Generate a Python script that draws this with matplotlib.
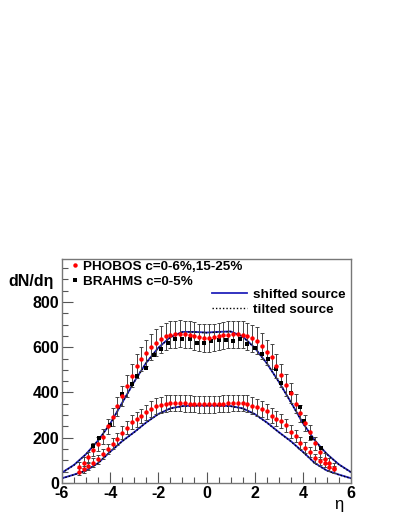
import matplotlib
matplotlib.use("Agg")
import matplotlib.pyplot as plt
from matplotlib.lines import Line2D

plt.rcParams['font.family'] = ['Liberation Sans', 'DejaVu Sans']
plt.rcParams['axes.unicode_minus'] = False

# PHOBOS 0-6% (central) and 15-25% (peripheral), eta bins of 0.2
phobos_eta = [-5.3, -5.1, -4.9, -4.7, -4.5, -4.3, -4.1, -3.9, -3.7, -3.5, -3.3, -3.1, -2.9, -2.7,
              -2.5, -2.3, -2.1, -1.9, -1.7, -1.5, -1.3, -1.1, -0.9, -0.7, -0.5, -0.3, -0.1,
              0.1, 0.3, 0.5, 0.7, 0.9, 1.1, 1.3, 1.5, 1.7, 1.9, 2.1, 2.3, 2.5, 2.7,
              2.9, 3.1, 3.3, 3.5, 3.7, 3.9, 4.1, 4.3, 4.5, 4.7, 4.9, 5.1, 5.3]
phobos_central = [69, 90, 113, 147, 172, 205, 250, 292, 340, 385, 430, 474, 515, 548,
                  575, 600, 620, 636, 648, 655, 658, 660, 657, 655, 650, 645, 641,
                  641, 645, 648, 652, 656, 658, 657, 655, 648, 639, 629, 607, 577, 558,
                  517, 477, 433, 399, 350, 308, 264, 224, 175, 135, 108, 88, 66]
phobos_central_err = [22, 24, 26, 28, 30, 32, 35, 38, 42, 45, 48, 51, 53, 55,
                      57, 58, 59, 60, 60, 60, 60, 60, 60, 60, 60, 60, 60,
                      60, 60, 60, 60, 60, 60, 60, 60, 60, 60, 59, 58, 57, 55,
                      53, 51, 48, 45, 42, 38, 35, 32, 30, 28, 26, 24, 22]
phobos_periph = [50, 60, 76, 90, 105, 128, 150, 174, 196, 222, 244, 270, 281, 296,
                 312, 327, 340, 346, 350, 353, 354, 353, 352, 350, 349, 348, 347,
                 347, 348, 349, 350, 352, 353, 354, 353, 350, 342, 334, 327, 317, 297,
                 284, 274, 256, 227, 209, 177, 156, 136, 109, 97, 87, 72, 60]
phobos_periph_err = [16, 17, 18, 19, 20, 22, 23, 25, 26, 28, 29, 31, 32, 33,
                     34, 35, 36, 36, 37, 37, 37, 37, 37, 37, 37, 37, 37,
                     37, 37, 37, 37, 37, 37, 37, 37, 37, 36, 36, 35, 34, 33,
                     32, 31, 29, 28, 26, 25, 23, 22, 20, 19, 18, 17, 16]

# BRAHMS 0-5%
brahms_eta = [-4.7, -4.45, -4.0, -3.5, -3.1, -2.9, -2.5, -2.2, -1.9, -1.6, -1.3, -1.0, -0.7, -0.4, -0.1,
              0.2, 0.5, 0.8, 1.1, 1.4, 1.7, 2.0, 2.3, 2.55, 2.9, 3.1, 3.5, 3.9, 4.05, 4.35, 4.75]
brahms_dn = [165, 197, 258, 392, 436, 475, 507, 565, 594, 620, 638, 638, 635, 620, 620,
             626, 630, 630, 626, 635, 615, 595, 570, 547, 505, 443, 398, 337, 274, 197, 153]

# model curves
model_eta = [-6.0, -5.5, -5.0, -4.5, -4.0, -3.5, -3.0, -2.5, -2.0, -1.5, -1.0, -0.5, 0.0,
             0.5, 1.0, 1.5, 2.0, 2.5, 3.0, 3.5, 4.0, 4.5, 5.0, 5.5, 6.0]
shifted_central = [46, 80, 128, 188, 262, 355, 448, 532, 598, 645, 668, 668, 665,
                   668, 670, 648, 598, 530, 448, 358, 265, 188, 128, 82, 48]
tilted_central = [45, 79, 127, 187, 261, 354, 447, 531, 597, 644, 667, 667, 664,
                  667, 669, 647, 597, 529, 447, 357, 264, 187, 127, 81, 47]
shifted_periph = [21, 37, 55, 88, 138, 185, 225, 268, 305, 330, 340, 342, 342,
                  342, 340, 330, 305, 268, 225, 185, 138, 88, 55, 37, 21]
tilted_periph = [20, 36, 54, 87, 137, 184, 224, 267, 304, 329, 339, 341, 341,
                 341, 339, 329, 304, 267, 224, 184, 137, 87, 54, 36, 20]

fig = plt.figure(figsize=(3.99, 5.16), dpi=100)
ax = fig.add_axes([0.1554, 0.064, 0.7243, 0.434])

ax.plot(model_eta, shifted_central, color='#2222bb', lw=1.3)
ax.plot(model_eta, shifted_periph, color='#2222bb', lw=1.3)
ax.plot(model_eta, tilted_central, color='black', lw=1.0, ls=(0, (1, 1.5)))
ax.plot(model_eta, tilted_periph, color='black', lw=1.0, ls=(0, (1, 1.5)))

ax.errorbar(phobos_eta, phobos_central, yerr=phobos_central_err, fmt='none',
            ecolor='#444444', elinewidth=0.7, capsize=1.5, capthick=0.7)
ax.errorbar(phobos_eta, phobos_periph, yerr=phobos_periph_err, fmt='none',
            ecolor='#444444', elinewidth=0.7, capsize=1.5, capthick=0.7)
ax.plot(brahms_eta, brahms_dn, 's', color='black', ms=3.2, mew=0)
ax.plot(phobos_eta, phobos_central, 'o', color='red', ms=3.2, mew=0)
ax.plot(phobos_eta, phobos_periph, 'o', color='red', ms=3.2, mew=0)

ax.set_xlim(-6, 6)
ax.set_ylim(0, 990)
ax.set_xticks([-6, -4, -2, 0, 2, 4, 6])
ax.set_yticks([0, 200, 400, 600, 800])
ax.set_xticks([x / 2 for x in range(-12, 13)], minor=True)
ax.set_yticks(list(range(0, 990, 50)), minor=True)
ax.tick_params(which='both', direction='in', right=False, top=False, width=0.8,
               color='#555555')
ax.tick_params(which='major', length=8, labelsize=11.5, pad=2)
ax.tick_params(which='minor', length=4)
for lab in ax.get_xticklabels() + ax.get_yticklabels():
    lab.set_fontweight('bold')
for sp in ax.spines.values():
    sp.set_color('#777777')
    sp.set_linewidth(1.0)

fig.text(0.02, 0.455, 'dN/d\u03b7', fontsize=11.5, fontweight='bold', va='center')
fig.text(0.838, 0.022, '\u03b7', fontsize=12, va='center')

h1 = [Line2D([], [], marker='o', ls='none', color='red', ms=3.2, mew=0),
      Line2D([], [], marker='s', ls='none', color='black', ms=3.2, mew=0)]
leg1 = ax.legend(h1, ['PHOBOS c=0-6%,15-25%', 'BRAHMS c=0-5%'], loc='upper left',
                 bbox_to_anchor=(-0.003, 1.035), frameon=False, handlelength=0.6,
                 handletextpad=0.3, labelspacing=0.2, borderaxespad=0.3,
                 prop={'weight': 'bold', 'size': 9.7})
ax.add_artist(leg1)
h2 = [Line2D([], [], color='#2222bb', lw=1.3),
      Line2D([], [], color='black', lw=1.0, ls=(0, (1, 1.5)))]
ax.legend(h2, ['shifted source', 'tilted source'], loc='upper right',
          bbox_to_anchor=(1.015, 0.91), frameon=False, handlelength=2.6,
          handletextpad=0.5, labelspacing=0.2, borderaxespad=0.3,
          prop={'weight': 'bold', 'size': 9.7})

fig.savefig('out.png', dpi=100)
